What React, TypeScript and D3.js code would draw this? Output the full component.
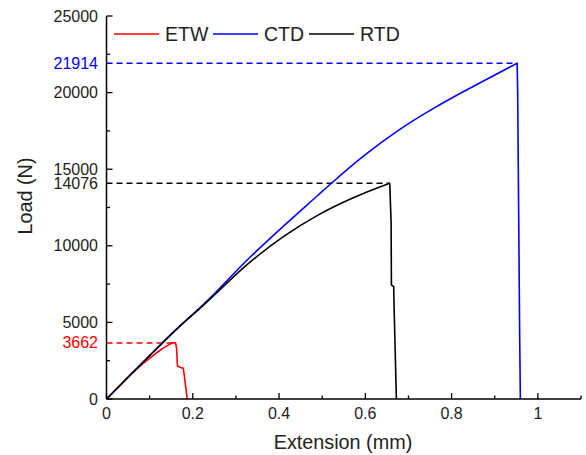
import React from "react";
import * as d3 from "d3";

const W = 586;
const H = 455;

// Series data: [extension (mm), load (N)] — rising part (smooth) and failure drop (linear)
const etwRise: [number, number][] = [
  [0, 0], [0.03, 850], [0.06, 1700], [0.08, 2200], [0.1, 2650], [0.125, 3200],
  [0.145, 3550], [0.152, 3662],
];
const etwDrop: [number, number][] = [
  [0.152, 3662], [0.16, 3662], [0.1625, 3300], [0.1645, 2150],
  [0.172, 2050], [0.178, 2000], [0.1805, 1500], [0.187, 0],
];
const ctdRise: [number, number][] = [
  [0, 0], [0.05, 1420], [0.1, 2830], [0.1522, 4288], [0.2294, 6300], [0.3326, 9250],
  [0.4109, 11300], [0.4882, 13250], [0.52, 14050], [0.6, 15950], [0.68, 17600],
  [0.76, 19000], [0.84, 20250], [0.91, 21300], [0.952, 21914],
];
const ctdDrop: [number, number][] = [
  [0.952, 21914], [0.9532, 19954], [0.9555, 12121], [0.9578, 4178], [0.9594, 0],
];
const rtdRise: [number, number][] = [
  [0, 0], [0.05, 1420], [0.1, 2830], [0.1522, 4288], [0.2294, 6247], [0.3326, 8930],
  [0.4109, 10614], [0.4882, 11967], [0.5655, 13049], [0.6427, 13937], [0.6566, 14076],
];
const rtdDrop: [number, number][] = [
  [0.6566, 14076], [0.6598, 11488], [0.6605, 7441], [0.6658, 7330], [0.6667, 6025], [0.672, 0],
];

const seriesNames = ["ETW", "CTD", "RTD"];
const seriesColors = ["#ff0000", "#0000ff", "#000000"];
const peakLoads = [3662, 21914, 14076];
const peakExt = [0.16, 0.952, 0.6566];

const xMajorTicks = [0, 0.2, 0.4, 0.6, 0.8, 1];
const xMinorTicks = [0.1, 0.3, 0.5, 0.7, 0.9, 1.1];
const yMajorTicks = [0, 5000, 10000, 15000, 20000, 25000];
const yMinorTicks = [2500, 7500, 12500, 17500, 22500];

const FONT = "Arial, 'Liberation Sans', sans-serif";

export default function App() {
  const x = d3.scaleLinear().domain([0, 1.1]).range([106.5, 581]);
  const y = d3.scaleLinear().domain([0, 25000]).range([399, 16]);
  const smooth = d3
    .line<[number, number]>()
    .x((d) => x(d[0]))
    .y((d) => y(d[1]))
    .curve(d3.curveMonotoneX);
  const straight = d3
    .line<[number, number]>()
    .x((d) => x(d[0]))
    .y((d) => y(d[1]));
  const rises = [etwRise, ctdRise, rtdRise];
  const drops = [etwDrop, ctdDrop, rtdDrop];
  const x0 = x(0);
  const y0 = y(0);

  return (
    <svg
      width={W}
      height={H}
      style={{ position: "absolute", left: 0, top: 0, background: "#fff" }}
      fontFamily={FONT}
    >
      <rect width={W} height={H} fill="#fff" />
      {peakLoads.map((p, i) => (
        <line
          key={"d" + i}
          x1={x0}
          x2={x(peakExt[i])}
          y1={y(p)}
          y2={y(p)}
          stroke={seriesColors[i]}
          strokeWidth={1.5}
          strokeDasharray="6,4"
        />
      ))}
      {rises.map((d, i) => (
        <g key={"c" + i}>
          <path
            d={(smooth(d) || "") + " " + (straight(drops[i]) || "").replace(/^M/, "L")}
            fill="none"
            stroke={seriesColors[i]}
            strokeWidth={1.6}
            strokeLinejoin="round"
          />
        </g>
      ))}
      <line x1={x0} x2={x0} y1={y0} y2={y(25000)} stroke="#000" strokeWidth={1.5} />
      <line x1={x0} x2={x(1.1)} y1={y0} y2={y0} stroke="#000" strokeWidth={1.5} />
      {yMajorTicks.map((t) => (
        <g key={"ym" + t}>
          <line x1={x0} x2={x0 + 6} y1={y(t)} y2={y(t)} stroke="#000" strokeWidth={1.3} />
          <text x={98} y={y(t)} dy="0.35em" textAnchor="end" fontSize={16} fill="#222">
            {t}
          </text>
        </g>
      ))}
      {yMinorTicks.map((t) => (
        <line key={"yn" + t} x1={x0} x2={x0 + 3.5} y1={y(t)} y2={y(t)} stroke="#000" strokeWidth={1.3} />
      ))}
      {peakLoads.map((p, i) => (
        <text
          key={"pl" + i}
          x={98}
          y={y(p)}
          dy="0.35em"
          textAnchor="end"
          fontSize={16}
          fill={seriesColors[i] === "#000000" ? "#222" : seriesColors[i]}
        >
          {p}
        </text>
      ))}
      {xMajorTicks.map((t) => (
        <g key={"xm" + t}>
          <line x1={x(t)} x2={x(t)} y1={y0} y2={y0 - 6} stroke="#000" strokeWidth={1.3} />
          <text x={x(t)} y={418.5} textAnchor="middle" fontSize={16} fill="#222">
            {t}
          </text>
        </g>
      ))}
      {xMinorTicks.map((t) => (
        <line key={"xn" + t} x1={x(t)} x2={x(t)} y1={y0} y2={y0 - 3.5} stroke="#000" strokeWidth={1.3} />
      ))}
      <text x={343} y={449} textAnchor="middle" fontSize={19.8} fill="#222">
        Extension (mm)
      </text>
      <text
        transform={`translate(32,196) rotate(-90)`}
        textAnchor="middle"
        fontSize={19.8}
        fill="#222"
      >
        Load (N)
      </text>
      {seriesNames.map((n, i) => {
        const lx = [114, 213, 309][i];
        return (
          <g key={"lg" + n}>
            <line x1={lx} x2={lx + 45} y1={34} y2={34} stroke={seriesColors[i]} strokeWidth={1.6} />
            <text x={lx + 51} y={34} dy="0.35em" fontSize={19.5} fill="#222">
              {n}
            </text>
          </g>
        );
      })}
    </svg>
  );
}
